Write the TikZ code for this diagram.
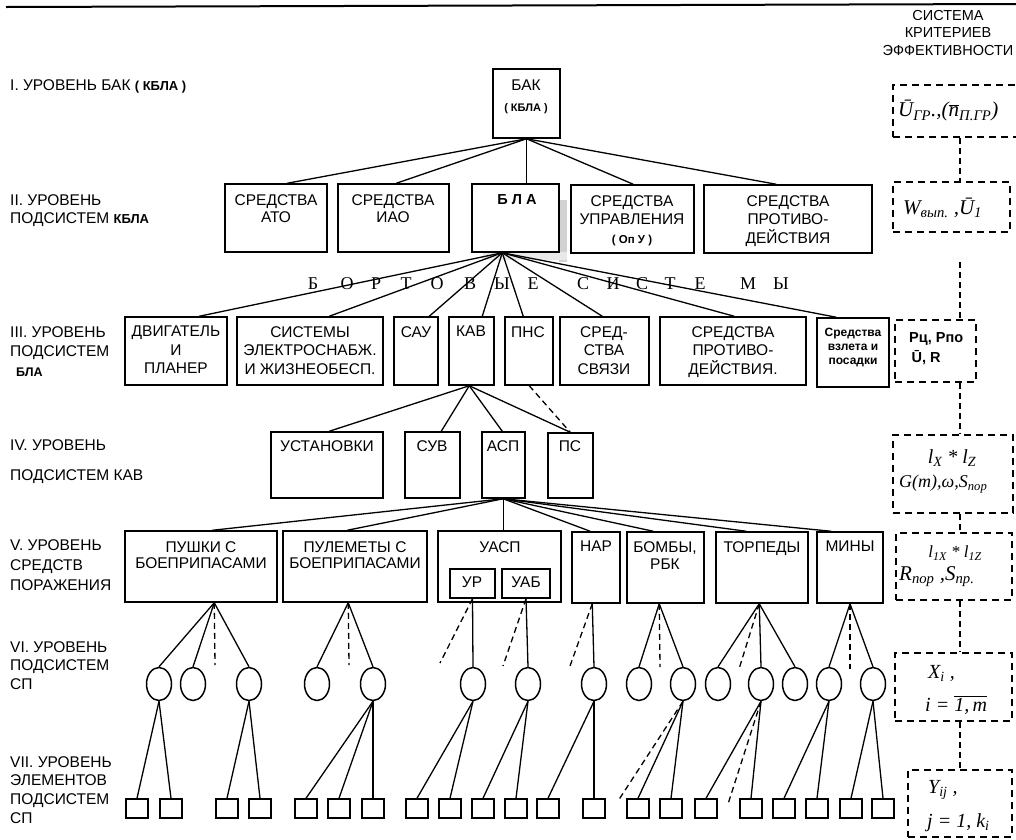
\documentclass[tikz,border=0pt]{standalone}
\usepackage{fontspec}
\setmainfont{Liberation Sans}
\newfontfamily\tms{Liberation Serif}
\usetikzlibrary{shapes.geometric}
\tikzset{
  box/.style={draw, line width=1.5pt, rectangle, inner sep=0pt},
  dbox/.style={draw, line width=1.5pt, dash pattern=on 7pt off 5pt, rectangle, inner sep=0pt},
  txt/.style={inner sep=0pt, align=center, anchor=north, font=\fontsize{15.5}{18.5}\selectfont},
  lvl/.style={inner sep=0pt, align=left, anchor=north west, font=\fontsize{15.5}{19.5}\selectfont},
  con/.style={line width=1.3pt},
  dcon/.style={line width=1.3pt, dash pattern=on 6pt off 4pt},
  ell/.style={draw, ellipse, line width=1.5pt, minimum width=25pt, minimum height=33pt, inner sep=0pt},
  sq/.style={draw, line width=1.5pt, minimum width=22pt, minimum height=19pt, inner sep=0pt},
  ser/.style={font=\tms\fontsize{18}{18}\selectfont, inner sep=0pt},
  fm/.style={inner sep=0pt, anchor=west, font=\tms\itshape\fontsize{21}{22}\selectfont}
}
\newcommand\mkbox[6][box]{\node[#1, minimum width={#5-#3}, minimum height={#6-#4}] (#2) at ({(#3+#5)/2},{(#4+#6)/2}) {};}
\begin{document}
\begin{tikzpicture}[x=1pt,y=-1pt]
\useasboundingbox (0,0) rectangle (1016,839);
\draw[line width=2pt] (6,7) -- (1016,4);

% header
\node[inner sep=0pt, align=center, font=\fontsize{14.5}{17.5}\selectfont] (hdr) at (948,33) {СИСТЕМА\\КРИТЕРИЕВ\\ЭФФЕКТИВНОСТИ};

% level labels
\node[lvl] (l1) at (10,79) {I. УРОВЕНЬ БАК {\bfseries\fontsize{13}{12}\selectfont ( КБЛА )}};
\node[lvl, font=\fontsize{15.5}{18.5}\selectfont] (l2) at (10,194) {II. УРОВЕНЬ\\ПОДСИСТЕМ {\bfseries\fontsize{13}{12}\selectfont КБЛА}};
\node[lvl] (l3) at (10,326) {III. УРОВЕНЬ\\ПОДСИСТЕМ\\\hspace*{6pt}{\bfseries\fontsize{12.5}{12}\selectfont БЛА}};
\node[lvl] (l4) at (10,439) {IV. УРОВЕНЬ\\[10.5pt]ПОДСИСТЕМ КАВ};
\node[lvl, font=\fontsize{15.5}{20}\selectfont] (l5) at (10,539) {V. УРОВЕНЬ\\СРЕДСТВ\\ПОРАЖЕНИЯ};
\node[lvl, font=\fontsize{15.5}{18.5}\selectfont] (l6) at (10,641) {VI. УРОВЕНЬ\\ПОДСИСТЕМ\\СП};
\node[lvl, font=\fontsize{15.5}{18.7}\selectfont] (l7) at (10,756) {VII. УРОВЕНЬ\\ЭЛЕМЕНТОВ\\ПОДСИСТЕМ\\СП};

% level I
\mkbox{bak}{493}{69}{560}{138}
\node[txt] (bakt) at (526,80) {БАК\\[2pt]{\bfseries\fontsize{11}{12}\selectfont ( КБЛА )}};

% level II
\fill[gray!35] (559,200) rectangle (567,262);
\fill[gray!18] (483,252) rectangle (567,260);
\mkbox{ato}{225}{184}{327}{252}
\node[txt, font=\fontsize{15.5}{17.5}\selectfont] (atot) at (276,194) {СРЕДСТВА\\АТО};
\mkbox{iao}{338}{184}{449}{252}
\node[txt, font=\fontsize{15.5}{17.5}\selectfont] (iaot) at (393,194) {СРЕДСТВА\\ИАО};
\mkbox{bla}{472}{184}{559}{252}
\node[txt, font=\bfseries\fontsize{14.5}{17}\selectfont] (blat) at (517,194) {Б Л А};
\mkbox{upr}{571}{185}{694}{253}
\node[txt] (uprt) at (632,195) {СРЕДСТВА\\УПРАВЛЕНИЯ\\{\bfseries\fontsize{11.5}{12}\selectfont ( Оп У )}};
\mkbox{prot}{704}{185}{872}{253}
\node[txt] (prott) at (788,195) {СРЕДСТВА\\ПРОТИВО-\\ДЕЙСТВИЯ};

% bortovye sistemy
\foreach \i/\x/\c in {1/313/Б,2/347/О,3/376/Р,4/406/Т,5/437/О,6/470/В,7/502/Ы,8/533/Е,9/583/С,10/613/И,11/642/С,12/670/Т,13/700/Е,14/748/М,15/781/Ы}
  \node[ser] (bs\i) at (\x,284) {\c};

% level III
\mkbox{dv}{125}{317}{227}{385}
\node[txt] (dvt) at (176,326) {ДВИГАТЕЛЬ\\И\\ПЛАНЕР};
\mkbox{sys}{237}{317}{383}{385}
\node[txt] (syst) at (310,326) {СИСТЕМЫ\\ЭЛЕКТРОСНАБЖ.\\И ЖИЗНЕОБЕСП.};
\mkbox{sau}{394}{317}{438}{385}
\node[txt] (saut) at (416,326) {САУ};
\mkbox{kav}{449}{317}{494}{385}
\node[txt] (kavt) at (471,326) {КАВ};
\mkbox{pns}{505}{317}{553}{385}
\node[txt] (pnst) at (528,326) {ПНС};
\mkbox{svz}{560}{317}{649}{385}
\node[txt] (svzt) at (604,326) {СРЕД-\\СТВА\\СВЯЗИ};
\mkbox{protc}{660}{317}{806}{385}
\node[txt] (protct) at (733,326) {СРЕДСТВА\\ПРОТИВО-\\ДЕЙСТВИЯ.};
\mkbox{vzl}{817}{318}{889}{387}
\node[txt, font=\bfseries\fontsize{12}{14}\selectfont] (vzlt) at (853,328) {Средства\\взлета и\\посадки};

% level IV
\mkbox{ust}{271}{432}{383}{498}
\node[txt] (ustt) at (327,440) {УСТАНОВКИ};
\mkbox{suv}{405}{432}{460}{498}
\node[txt] (suvt) at (432,440) {СУВ};
\mkbox{asp}{482}{432}{525}{498}
\node[txt] (aspt) at (503,440) {АСП};
\mkbox{ps}{548}{433}{593}{498}
\node[txt] (pst) at (570,440) {ПС};

% level V
\mkbox{push}{125}{531}{277}{602}
\node[txt, font=\fontsize{15.5}{16.5}\selectfont] (pusht) at (201,541) {ПУШКИ С\\БОЕПРИПАСАМИ};
\mkbox{pul}{283}{531}{427}{602}
\node[txt, font=\fontsize{15.5}{16.5}\selectfont] (pult) at (355,541) {ПУЛЕМЕТЫ С\\БОЕПРИПАСАМИ};
\mkbox{uasp}{438}{531}{561}{602}
\node[txt] (uaspt) at (500,541) {УАСП};
\mkbox{ur}{450}{569}{495}{598}
\node[txt] (urt) at (472,577) {УР};
\mkbox{uab}{502}{569}{550}{598}
\node[txt] (uabt) at (526,577) {УАБ};
\mkbox{nar}{572}{532}{620}{603}
\node[txt] (nart) at (596,541) {НАР};
\mkbox{bomb}{627}{532}{704}{603}
\node[txt, font=\fontsize{15.5}{17.5}\selectfont] (bombt) at (665,541) {БОМБЫ,\\РБК};
\mkbox{torp}{716}{532}{808}{603}
\node[txt] (torpt) at (762,541) {ТОРПЕДЫ};
\mkbox{mine}{817}{532}{883}{603}
\node[txt] (minet) at (850,541) {МИНЫ};

% criteria column
\coordinate (rc) at (960,0);
\mkbox[dbox]{c1}{893}{85}{1030}{137}
\node[fm] (c1t) at (898,111) {Ū\textsubscript{ГР}.,($\overline{\mbox{n}}$\textsubscript{П.ГР})};
\mkbox[dbox]{c2}{893}{182}{1010}{232}
\node[fm] (c2t) at (903,208) {W\textsubscript{вып.} ,Ū\textsubscript{1}};
\mkbox[dbox]{c3}{895}{320}{976}{382}
\node[inner sep=0pt, anchor=north west, align=left, font=\bfseries\fontsize{14.5}{20}\selectfont] (c3t) at (909,332) {Рц, Рпо\\\,Ū, R};
\mkbox[dbox]{c4}{893}{435}{1013}{513}
\node[fm, anchor=center, font=\tms\itshape\fontsize{20}{22}\selectfont] (c4a) at (952,458) {l\textsubscript{X} * l\textsubscript{Z}};
\node[fm, font=\tms\itshape\fontsize{18}{18}\selectfont] (c4b) at (899,484) {G(m),ω,S\textsubscript{пор}};
\mkbox[dbox]{c5}{896}{533}{1012}{600}
\node[fm, anchor=center, font=\tms\itshape\fontsize{17}{20}\selectfont] (c5a) at (955,553) {l\textsubscript{1X} * l\textsubscript{1Z}};
\node[fm] (c5b) at (899,577) {R\textsubscript{пор} ,S\textsubscript{пр.}};
\mkbox[dbox]{c6}{895}{653}{1012}{721}
\node[fm, font=\tms\itshape\fontsize{20}{22}\selectfont] (c6a) at (928,673) {X\textsubscript{i} ,};
\node[fm, font=\tms\itshape\fontsize{20}{22}\selectfont] (c6b) at (925,705) {i = $\overline{\mbox{1,\,m}}$};
\mkbox[dbox]{c7}{908}{770}{1012}{837}
\node[fm, font=\tms\itshape\fontsize{20}{22}\selectfont] (c7a) at (928,790) {Y\textsubscript{ij} ,};
\node[fm, font=\tms\itshape\fontsize{20}{22}\selectfont] (c7b) at (927,823) {j = 1, k\textsubscript{i}};
\coordinate (g2) at (960,262);
\draw[dcon] (c1.south -| rc) -- (c2.north -| rc);
\draw[dcon] (g2) -- (c3.north -| rc);
\draw[dcon] (c3.south -| rc) -- (c4.north -| rc);
\draw[dcon] (c4.south -| rc) -- (c5.north -| rc);
\draw[dcon] (c5.south -| rc) -- (c6.north -| rc);
\draw[dcon] (c6.south -| rc) -- (c7.north -| rc);

% connectors I -> II
\draw[con] (bak.south) -- ([xshift=63pt]ato.north west);
\draw[con] (bak.south) -- ([xshift=59pt]iao.north west);
\draw[con] (bak.south) -- (bak.south |- bla.north);
\draw[con] (bak.south) -- ([xshift=63pt]upr.north west);
\draw[con] (bak.south) -- ([xshift=73pt]prot.north west);

% II -> III
\coordinate (abla) at ([xshift=31pt]bla.south west);
\draw[con] (abla) -- ([xshift=75pt]dv.north west);
\draw[con] (abla) -- ([xshift=93pt]sys.north west);
\draw[con] (abla) -- ([xshift=36pt]sau.north west);
\draw[con] (abla) -- ([xshift=34pt]kav.north west);
\draw[con] (abla) -- ([xshift=19pt]pns.north west);
\draw[con] (abla) -- ([xshift=43pt]svz.north west);
\draw[con] (abla) -- ([xshift=75pt]protc.north west);
\draw[con] (abla) -- ([xshift=20pt]vzl.north west);

% III -> IV
\coordinate (akav) at ([xshift=21pt]kav.south west);
\draw[con] (akav) -- ([xshift=59pt]ust.north west);
\draw[con] (akav) -- ([xshift=37pt]suv.north west);
\draw[con] (akav) -- ([xshift=21pt]asp.north west);
\draw[con] (akav) -- ([xshift=23pt]ps.north west);
\draw[dcon] ([xshift=25pt]pns.south west) -- ([xshift=23pt]ps.north west);

% IV -> V
\coordinate (aasp) at ([xshift=22pt]asp.south west);
\draw[con] (aasp) -- ([xshift=88pt]push.north west);
\draw[con] (aasp) -- ([xshift=65pt]pul.north west);
\draw[con] (aasp) -- (aasp |- uasp.north);
\draw[con] (aasp) -- ([xshift=19pt]nar.north west);
\draw[con] (aasp) -- ([xshift=27pt]bomb.north west);
\draw[con] (aasp) -- ([xshift=31pt]torp.north west);
\draw[con] (aasp) -- ([xshift=15pt]mine.north west);

% level VI ellipses
\foreach \n/\x in {1/159,2/193,3/249,4/317,5/373,6/473,7/528,8/594,9/639,10/683,11/718,12/761,13/795,14/829,15/873}
  \node[ell] (e\n) at (\x,684) {};
% level VII squares
\foreach \n/\x in {1/137,2/171,3/227,4/260,5/306,6/339,7/373,8/417,9/450,10/483,11/516,12/548,13/594,14/638,15/671,16/706,17/751,18/784,19/817,20/851,21/883}
  \node[sq] (s\n) at (\x,808.5) {};

% V -> VI
\coordinate (apush) at ([xshift=90pt]push.south west);
\coordinate (apul) at ([xshift=66pt]pul.south west);
\coordinate (anar) at ([xshift=21pt]nar.south west);
\coordinate (abomb) at ([xshift=33pt]bomb.south west);
\coordinate (atorp) at ([xshift=44pt]torp.south west);
\foreach \e in {e1,e2,e3} \draw[con] (apush) -- (\e.north);
\foreach \e in {e4,e5} \draw[con] (apul) -- (\e.north);
\draw[con] (ur.south) -- (e6.north);
\draw[con] (uab.south) -- (e7.north);
\draw[con] (anar) -- (e8.north);
\foreach \e in {e9,e10} \draw[con] (abomb) -- (\e.north);
\foreach \e in {e11,e12,e13} \draw[con] (atorp) -- (\e.north);
\foreach \e in {e14,e15} \draw[con] (mine.south) -- (\e.north);

\coordinate (d1) at (215,665);
\coordinate (d2) at (349,665);
\coordinate (d3) at (440,663);
\coordinate (d4) at (503,666);
\coordinate (d5) at (570,666);
\coordinate (d6) at (660,667);
\coordinate (d7) at (739,669);
\coordinate (d8) at (850,669);
\draw[dcon] (apush) -- (d1);
\draw[dcon] (apul) -- (d2);
\draw[dcon] (ur.south) -- (d3);
\draw[dcon] (uab.south) -- (d4);
\draw[dcon] (anar) -- (d5);
\draw[dcon] (abomb) -- (d6);
\draw[dcon] (atorp) -- (d7);
\draw[dcon] (mine.south) -- (d8);

% VI -> VII
\foreach \a/\b in {e1/s1,e1/s2,e3/s3,e3/s4,e5/s5,e5/s6,e5/s7,e6/s8,e6/s9,e7/s10,e7/s11,e8/s12,e8/s13,e10/s14,e10/s15,e12/s16,e12/s17,e14/s18,e14/s19,e15/s20,e15/s21}
  \draw[con] (\a.south) -- (\b.north);
\coordinate (d9) at (618,801);
\coordinate (d10) at (728,804);
\draw[dcon] (e10.south) -- (d9);
\draw[dcon] (e12.south) -- (d10);
\end{tikzpicture}
\end{document}
